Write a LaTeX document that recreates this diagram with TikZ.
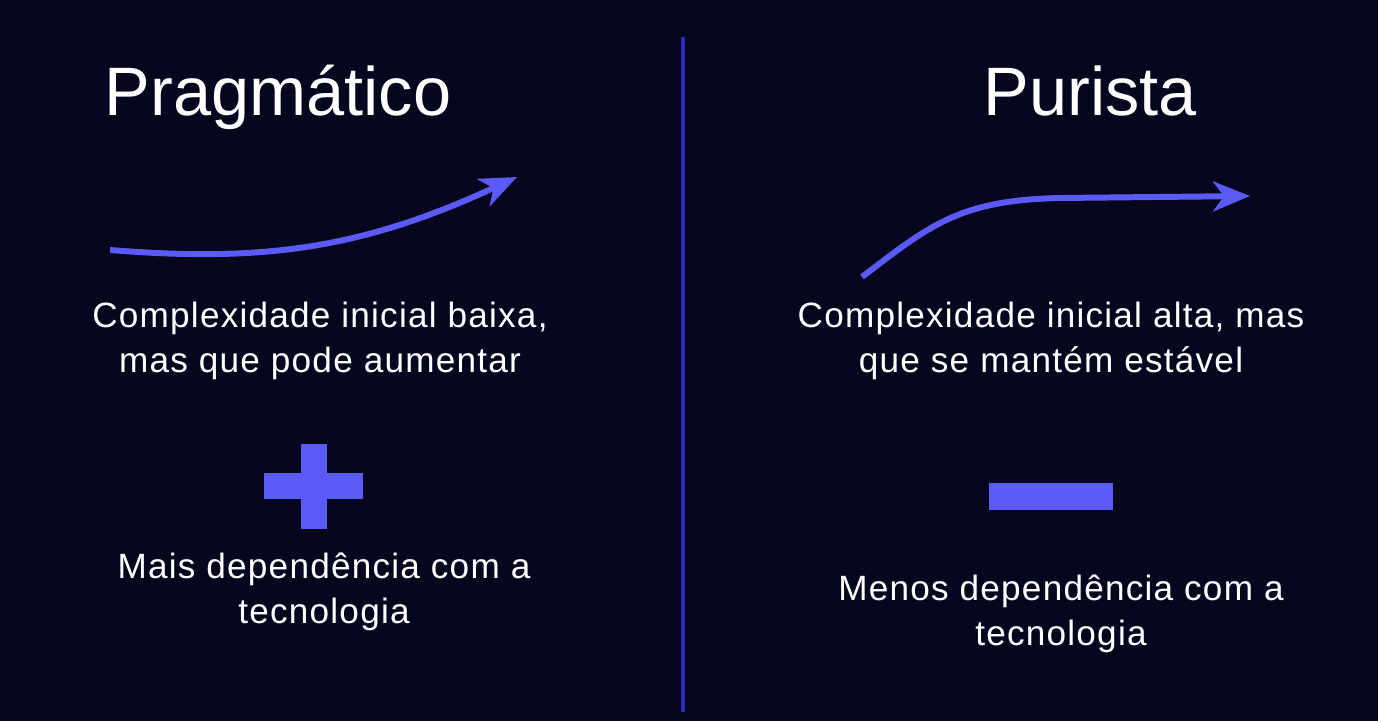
\documentclass[tikz,border=0pt]{standalone}
\usepackage{fontspec}
\setmainfont{Liberation Sans}
\usetikzlibrary{arrows.meta}

\definecolor{fundo}{HTML}{06061F}
\definecolor{destaque}{HTML}{5A5AF6}
\definecolor{divisor}{HTML}{2B2BBE}

\begin{document}
\begin{tikzpicture}[x=0.02cm,y=-0.02cm,
  titulo/.style={text=white,anchor=base,font=\fontsize{39}{42}\selectfont},
  texto/.style={text=white,anchor=base,align=center,font=\fontsize{20}{25.6}\selectfont\addfontfeature{LetterSpace=3.5}},
  seta/.style={draw=destaque,line width=3.4pt,-{Stealth[length=0.74cm,width=0.6cm,inset=0.22cm]}}]

\fill[fundo] (0,0) rectangle (1378,721);
\useasboundingbox (0,0) rectangle (1378,721);

\draw[divisor,line width=2.6pt] (683,37) -- (683,712);

\node[titulo] (prag) at (278,115) {Pragmático};
\node[titulo] (puri) at (1090,115) {Purista};

\coordinate (p0) at (110,250);
\coordinate (p1) at (517,177);
\draw[seta] (p0) .. controls (260,262) and (360,250) .. (p1);

\coordinate (q0) at (862,277);
\coordinate (q1) at (1060,198);
\coordinate (q2) at (1250,196);
\draw[seta] (q0) .. controls (930,225) and (960,200) .. (q1) -- (q2);

% base = ultima linha
\node[texto] (desc1) at (320,372) {Complexidade inicial baixa,\\mas que pode aumentar};
\node[texto] (desc2) at (1051,372) {Complexidade inicial alta, mas\\que se mantém estável};

\fill[destaque] (264,473) rectangle (363,499);
\fill[destaque] (301,444) rectangle (327,529);
\fill[destaque] (989,483) rectangle (1113,510);

\node[texto] (dep1) at (324,623) {Mais dependência com a\\tecnologia};
\node[texto] (dep2) at (1061,645) {Menos dependência com a\\tecnologia};

\end{tikzpicture}
\end{document}
